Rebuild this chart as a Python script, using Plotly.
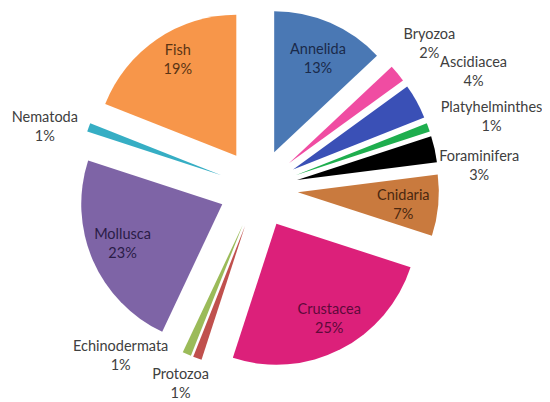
import math
import plotly.graph_objects as go

# ---- data -------------------------------------------------------------
labels = ["Annelida", "Bryozoa", "Ascidiacea", "Platyhelminthes", "Foraminifera",
          "Cnidaria", "Crustacea", "Protozoa", "Echinodermata", "Mollusca",
          "Nematoda", "Fish"]
values = [13, 2, 4, 1, 3, 7, 25, 1, 1, 23, 1, 19]

# ---- style ------------------------------------------------------------
colors = ["#4a78b4", "#f04ca2", "#3a50b6", "#1eae4e", "#000000", "#c97a3e",
          "#dc207a", "#c0504d", "#9bbb59", "#7e64a6", "#36aec4", "#f7964a"]
text_colors = ["#1a2a4a", "#404040", "#404040", "#404040", "#404040", "#4a2810",
               "#5e0a3a", "#404040", "#404040", "#2a1c46", "#404040", "#5a3414"]
# where each label block is centred on the page (pixels, page top-left)
label_centre_px = {
    "Annelida": (318, 58), "Bryozoa": (428, 43), "Ascidiacea": (475, 71),
    "Platyhelminthes": (493, 116), "Foraminifera": (481, 165),
    "Cnidaria": (405, 204), "Crustacea": (329, 318), "Protozoa": (181, 383),
    "Echinodermata": (123, 355), "Mollusca": (123, 243), "Nematoda": (50, 126),
    "Fish": (178, 59),
}
W, H = 550, 402
PAGE_OFFSET = 8          # browser body margin
PULL = 0.28
FONT_SIZE = 14.5
FONT = dict(family="Lato", size=FONT_SIZE)

common = dict(
    labels=labels,
    values=values,
    sort=False,
    direction="clockwise",
    rotation=0,
    pull=PULL,
    texttemplate="%{label}<br>%{percent:.0%}",
    automargin=False,
    showlegend=False,
)

fig = go.Figure()

# the coloured pie (plot box 361 px square)
fig.add_trace(go.Pie(
    marker=dict(colors=colors, line=dict(width=0)),
    textposition="none",
    hoverinfo="label+percent",
    domain=dict(x=[70 / W, 431 / W], y=[1 - 361 / H, 1]),
    **common,
))

# one transparent helper pie per label: the library's own outside-text
# placement puts each label, the helper pie is sized/placed so the label
# lands where it sits in the reference
total = sum(values)
cum = 0.0
R = 40.0
for i, (lab, v) in enumerate(zip(labels, values)):
    theta = math.radians(360.0 * (cum + v / 2.0) / total)
    cum += v
    dx, dy = math.sin(theta), -math.cos(theta)
    w = 0.48 * FONT_SIZE * len(lab)
    h = 2.5 * FONT_SIZE
    ox = math.copysign(w / 2 + h / 4, dx)
    oy = math.copysign(h / 2, dy) * math.cos(theta) ** 2
    tx, ty = label_centre_px[lab]
    tx -= PAGE_OFFSET
    ty -= PAGE_OFFSET
    cx = tx - ox - dx * R
    cy = ty - oy - dy * R
    fig.add_trace(go.Pie(
        marker=dict(colors=["rgba(0,0,0,0)"] * len(values), line=dict(width=0)),
        textposition=["outside" if j == i else "none" for j in range(len(values))],
        textfont=dict(color=text_colors[i], **FONT),
        hoverinfo="skip",
        domain=dict(x=[(cx - R) / W, (cx + R) / W],
                    y=[1 - (cy + R) / H, 1 - (cy - R) / H]),
        **common,
    ))

fig.update_layout(
    width=W, height=H,
    margin=dict(l=0, r=0, t=0, b=0, autoexpand=False),
    paper_bgcolor="white",
    plot_bgcolor="white",
)

fig.write_html("out.html")
